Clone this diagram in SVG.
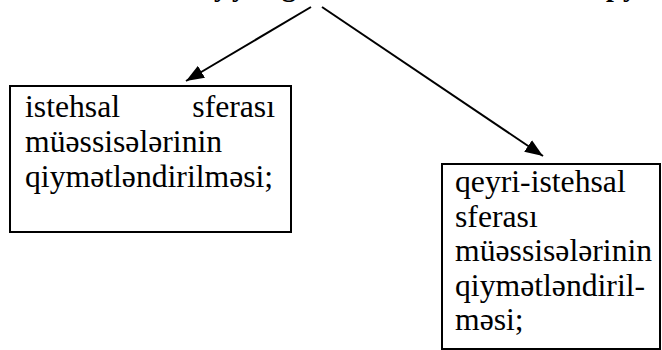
<svg xmlns="http://www.w3.org/2000/svg" width="662" height="350" viewBox="0 0 662 350">
  <style>
    .box { fill: #ffffff; stroke: #000000; stroke-width: 2; }
    text { font-family: 'Liberation Serif', 'Times New Roman', serif; fill: #000000; }
    .label { font-size: 31.7px; }
    .title { font-size: 28px; font-weight: bold; }
    .link { stroke: #000000; stroke-width: 2; fill: none; marker-end: url(#arrow); }
  </style>
  <defs>
    <marker id="arrow" viewBox="0 0 18 14" refX="18" refY="7" markerWidth="18" markerHeight="14" markerUnits="userSpaceOnUse" orient="auto">
      <path d="M0,0 L18,7 L0,14 z" fill="#000000"/>
    </marker>
  </defs>
  <rect width="662" height="350" fill="#ffffff"/>

  <!-- heading line, cut off by the top edge: only descenders remain -->
  <g id="heading">
    <text class="title" y="-4"><tspan x="214">y</tspan><tspan x="232">y</tspan><tspan x="282">g</tspan><tspan x="606">p</tspan><tspan x="623">y</tspan></text>
  </g>

  <g id="connectors">
    <line class="link" x1="311" y1="7" x2="186" y2="81"/>
    <line class="link" x1="322" y1="7" x2="543" y2="156"/>
  </g>

  <g id="node-production">
    <rect class="box" x="10" y="86" width="281" height="146"/>
    <text class="label" x="25" y="117">istehsal</text>
    <text class="label" x="275" y="117" text-anchor="end">sferası</text>
    <text class="label" x="25" y="152">müəssisələrinin</text>
    <text class="label" x="25" y="187">qiymətləndirilməsi;</text>
  </g>

  <g id="node-non-production">
    <rect class="box" x="442" y="164" width="218" height="185"/>
    <text class="label" x="455" y="192">qeyri-istehsal</text>
    <text class="label" x="455" y="227">sferası</text>
    <text class="label" x="455" y="261">müəssisələrinin</text>
    <text class="label" x="455" y="296">qiymətləndiril-</text>
    <text class="label" x="455" y="330">məsi;</text>
  </g>
</svg>
